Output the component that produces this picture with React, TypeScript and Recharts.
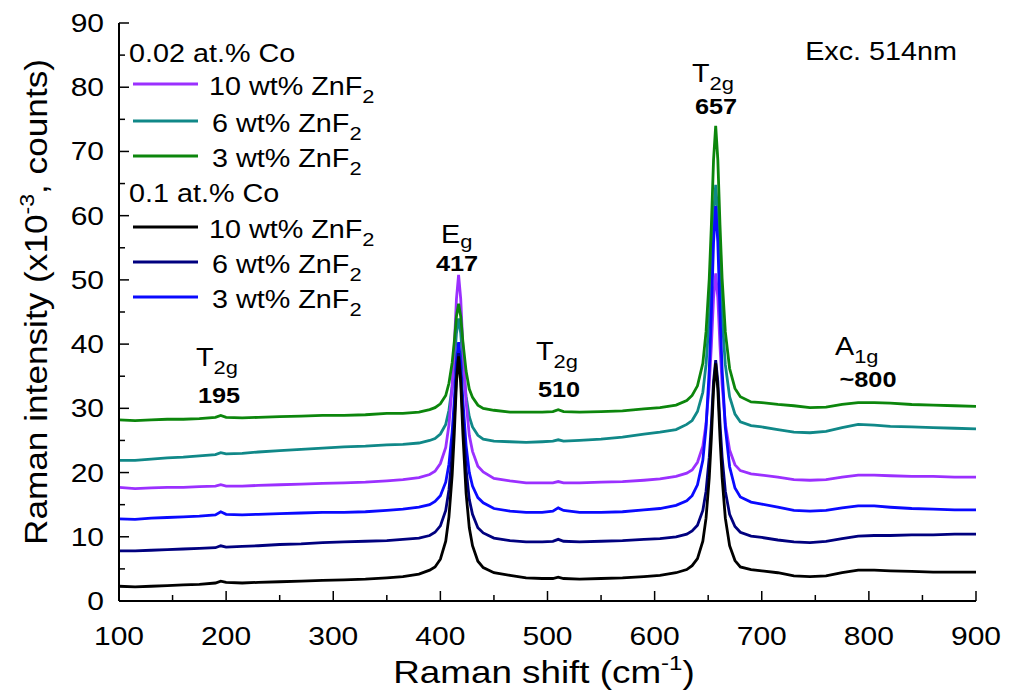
import { LineChart, Line, XAxis, YAxis } from 'recharts'

// Raman shift (cm-1)
const shift = [
  100, 115, 130, 145, 160, 175, 190, 195, 200, 215,
  230, 250, 270, 290, 310, 330, 350, 365, 380, 390,
  395, 400, 405, 408, 411, 413, 415, 417, 419, 421,
  424, 427, 430, 435, 440, 450, 465, 480, 495, 505,
  510, 515, 530, 550, 570, 590, 605, 620, 630, 635,
  640, 645, 648, 651, 653, 655, 657, 659, 661, 663,
  666, 670, 675, 680, 690, 700, 715, 730, 745, 760,
  775, 790, 805, 820, 840, 860, 880, 900,
]

// 0.02 at.% Co
const co002_10 = [
  17.7, 17.5, 17.6, 17.7, 17.7, 17.8, 17.9, 18.1, 17.9, 17.9,
  18.0, 18.1, 18.2, 18.3, 18.4, 18.5, 18.7, 18.9, 19.2, 19.7,
  20.2, 21.4, 23.9, 27.4, 33.5, 39.6, 47.0, 50.8, 47.0, 39.6,
  31.0, 25.8, 23.3, 21.0, 20.1, 19.1, 18.7, 18.4, 18.4, 18.4,
  18.6, 18.4, 18.4, 18.5, 18.6, 18.8, 19.0, 19.4, 19.9, 20.4,
  21.6, 24.1, 27.6, 33.7, 39.8, 47.2, 51.0, 47.2, 39.8, 33.7,
  27.6, 23.5, 21.2, 20.3, 19.8, 19.6, 19.3, 18.9, 18.8, 18.9,
  19.3, 19.6, 19.6, 19.5, 19.4, 19.4, 19.3, 19.3,
]
const co002_6 = [
  21.9, 21.9, 22.1, 22.3, 22.4, 22.6, 22.8, 23.1, 22.9, 23.0,
  23.2, 23.4, 23.6, 23.8, 24.0, 24.1, 24.3, 24.4, 24.6, 25.0,
  25.3, 26.0, 27.5, 29.7, 33.4, 37.1, 41.7, 44.0, 41.7, 37.1,
  31.9, 28.7, 27.1, 25.8, 25.2, 24.9, 24.8, 24.7, 24.8, 24.9,
  25.1, 24.9, 25.0, 25.2, 25.5, 26.0, 26.3, 26.7, 27.5, 28.1,
  29.5, 32.5, 36.8, 44.1, 51.4, 60.2, 64.8, 60.2, 51.4, 44.1,
  36.8, 31.8, 29.1, 27.9, 27.3, 27.1, 26.7, 26.3, 26.2, 26.4,
  27.0, 27.5, 27.4, 27.2, 27.1, 27.0, 26.9, 26.8,
]
const co002_3 = [
  28.2, 28.1, 28.2, 28.3, 28.3, 28.4, 28.6, 28.9, 28.6, 28.5,
  28.6, 28.7, 28.8, 28.9, 28.9, 29.0, 29.2, 29.2, 29.4, 29.8,
  30.1, 30.7, 32.0, 33.9, 37.1, 40.4, 44.3, 46.3, 44.3, 40.4,
  35.8, 33.0, 31.7, 30.5, 30.0, 29.7, 29.4, 29.4, 29.4, 29.5,
  29.8, 29.5, 29.4, 29.5, 29.6, 29.9, 30.1, 30.5, 31.2, 32.0,
  33.5, 37.0, 41.9, 50.2, 58.6, 68.7, 74.0, 68.7, 58.6, 50.2,
  41.9, 36.2, 33.1, 31.8, 31.0, 30.9, 30.6, 30.4, 30.1, 30.2,
  30.6, 30.9, 30.9, 30.8, 30.6, 30.5, 30.4, 30.3,
]

// 0.1 at.% Co
const co01_10 = [
  2.3, 2.2, 2.3, 2.4, 2.5, 2.6, 2.8, 3.1, 2.9, 2.8,
  2.9, 3.0, 3.1, 3.2, 3.3, 3.4, 3.6, 3.8, 4.2, 4.8,
  5.3, 6.5, 9.3, 13.1, 19.6, 26.1, 34.0, 38.1, 34.0, 26.1,
  16.8, 11.4, 8.6, 6.2, 5.2, 4.4, 4.0, 3.6, 3.5, 3.5,
  3.7, 3.5, 3.4, 3.5, 3.6, 3.8, 4.0, 4.4, 4.9, 5.5,
  6.6, 9.3, 12.9, 19.2, 25.5, 33.0, 37.0, 33.0, 25.5, 19.2,
  12.9, 8.6, 6.3, 5.3, 4.9, 4.7, 4.4, 3.9, 3.8, 3.9,
  4.4, 4.8, 4.8, 4.7, 4.6, 4.5, 4.5, 4.5,
]
const co01_6 = [
  7.8, 7.8, 7.9, 8.0, 8.1, 8.2, 8.3, 8.6, 8.4, 8.5,
  8.6, 8.8, 8.9, 9.1, 9.2, 9.3, 9.4, 9.6, 9.8, 10.2,
  10.7, 11.7, 14.1, 17.3, 22.8, 28.4, 35.1, 38.6, 35.1, 28.4,
  20.5, 15.8, 13.5, 11.4, 10.6, 9.8, 9.4, 9.2, 9.2, 9.3,
  9.6, 9.3, 9.2, 9.3, 9.4, 9.6, 9.7, 10.0, 10.4, 10.9,
  11.8, 14.1, 17.1, 22.4, 27.7, 34.2, 37.5, 34.2, 27.7, 22.4,
  17.1, 13.5, 11.6, 10.7, 10.1, 9.9, 9.5, 9.2, 9.1, 9.3,
  9.7, 10.1, 10.2, 10.2, 10.3, 10.3, 10.4, 10.4,
]
const co01_3 = [
  12.8, 12.7, 12.9, 13.0, 13.1, 13.2, 13.4, 13.9, 13.5, 13.4,
  13.5, 13.6, 13.7, 13.8, 13.8, 13.9, 14.1, 14.3, 14.6, 15.0,
  15.5, 16.4, 18.5, 21.3, 26.3, 31.2, 37.2, 40.3, 37.2, 31.2,
  24.2, 20.0, 17.9, 16.1, 15.3, 14.4, 14.0, 13.8, 13.8, 14.0,
  14.5, 14.1, 13.8, 13.8, 13.9, 14.2, 14.4, 14.9, 15.6, 16.4,
  18.1, 21.9, 27.0, 36.0, 45.0, 55.8, 61.5, 55.8, 45.0, 36.0,
  27.0, 20.9, 17.6, 16.2, 15.4, 15.1, 14.6, 14.1, 14.0, 14.1,
  14.5, 14.8, 14.8, 14.6, 14.4, 14.3, 14.2, 14.2,
]

const xTicks = [100, 150, 200, 250, 300, 350, 400, 450, 500, 550, 600, 650, 700, 750, 800, 850, 900]
const yTicks = [0, 5, 10, 15, 20, 25, 30, 35, 40, 45, 50, 55, 60, 65, 70, 75, 80, 85, 90]

const data = shift.map((x, i) => ({
  x,
  a: co002_10[i],
  b: co002_6[i],
  c: co002_3[i],
  d: co01_10[i],
  e: co01_6[i],
  f: co01_3[i],
}))

const PURPLE = '#9b30ff'
const TEAL = '#108888'
const GREEN = '#0c860c'
const NAVY = '#00007f'
const BLUE = '#0a0aff'
const BLACK = '#000000'

const FONT = "'Liberation Sans', Arial, sans-serif"
const SX = 1.15

// plot box
const LEFT = 119
const RIGHT = 976
const TOP = 23
const BOTTOM = 601

function BottomTick({ x, payload }: any) {
  const major = payload.value % 100 === 0
  return (
    <g>
      <line x1={x} x2={x} y1={BOTTOM} y2={BOTTOM - (major ? 10 : 6)} stroke="#000" strokeWidth={1.5} />
      {major && (
        <text transform={`translate(${x},645) scale(1.2,1)`} textAnchor="middle" fontSize={25} fontFamily={FONT} fill="#000">
          {payload.value}
        </text>
      )}
    </g>
  )
}

function TopTick({ x, payload }: any) {
  const major = payload.value % 100 === 0
  return <line x1={x} x2={x} y1={TOP} y2={TOP + (major ? 10 : 6)} stroke="#000" strokeWidth={1.5} />
}

function LeftTick({ y, payload }: any) {
  const major = payload.value % 10 === 0
  return (
    <g>
      <line x1={LEFT} x2={LEFT + (major ? 10 : 6)} y1={y} y2={y} stroke="#000" strokeWidth={1.5} />
      {major && (
        <text transform={`translate(104,${y + 9}) scale(1.2,1)`} textAnchor="end" fontSize={25} fontFamily={FONT} fill="#000">
          {payload.value}
        </text>
      )}
    </g>
  )
}

function RightTick({ y, payload }: any) {
  const major = payload.value % 10 === 0
  return <line x1={RIGHT} x2={RIGHT - (major ? 10 : 6)} y1={y} y2={y} stroke="#000" strokeWidth={1.5} />
}

function Txt({ x, y, size = 25, anchor = 'start', bold = false, children }: any) {
  return (
    <text
      transform={`translate(${x},${y}) scale(${SX},1)`}
      fontSize={size}
      textAnchor={anchor}
      fontWeight={bold ? 'bold' : 'normal'}
      fontFamily={FONT}
      fill="#000"
    >
      {children}
    </text>
  )
}

function Mode({ x, y, main, sub, dy = 8 }: any) {
  return (
    <Txt x={x} y={y} size={25}>
      {main}
      <tspan fontSize={19} dy={dy}>{sub}</tspan>
    </Txt>
  )
}

const legendRows = [
  { y: 84, tx: 209, color: PURPLE, label: '10 wt% ZnF' },
  { y: 121, tx: 212, color: TEAL, label: '6 wt% ZnF' },
  { y: 156, tx: 212, color: GREEN, label: '3 wt% ZnF' },
  { y: 227, tx: 209, color: BLACK, label: '10 wt% ZnF' },
  { y: 262, tx: 212, color: NAVY, label: '6 wt% ZnF' },
  { y: 297, tx: 212, color: BLUE, label: '3 wt% ZnF' },
]

export default function App() {
  return (
    <div style={{ position: 'absolute', left: 0, top: 0, width: 1011, height: 697, background: '#fff' }}>
      <LineChart width={1011} height={697} data={data} margin={{ top: TOP, right: 1011 - RIGHT, bottom: 56, left: 59 }}>
        <XAxis
          dataKey="x"
          type="number"
          domain={[100, 900]}
          ticks={xTicks}
          interval={0}
          height={40}
          axisLine={{ stroke: '#000', strokeWidth: 2 }}
          tickLine={false}
          tick={<BottomTick />}
        />
        <XAxis
          xAxisId="top"
          orientation="top"
          dataKey="x"
          type="number"
          domain={[100, 900]}
          ticks={xTicks}
          interval={0}
          height={0}
          axisLine={{ stroke: '#000', strokeWidth: 2 }}
          tickLine={false}
          tick={<TopTick />}
        />
        <YAxis
          type="number"
          domain={[0, 90]}
          ticks={yTicks}
          interval={0}
          width={60}
          axisLine={{ stroke: '#000', strokeWidth: 2 }}
          tickLine={false}
          tick={<LeftTick />}
        />
        <YAxis
          yAxisId="right"
          orientation="right"
          type="number"
          domain={[0, 90]}
          ticks={yTicks}
          interval={0}
          width={0}
          axisLine={{ stroke: '#000', strokeWidth: 2 }}
          tickLine={false}
          tick={<RightTick />}
        />
        <Line type="linear" dataKey="b" stroke={TEAL} strokeWidth={2.8} dot={false} isAnimationActive={false} />
        <Line type="linear" dataKey="a" stroke={PURPLE} strokeWidth={2.8} dot={false} isAnimationActive={false} />
        <Line type="linear" dataKey="f" stroke={BLUE} strokeWidth={2.8} dot={false} isAnimationActive={false} />
        <Line type="linear" dataKey="e" stroke={NAVY} strokeWidth={2.8} dot={false} isAnimationActive={false} />
        <Line type="linear" dataKey="d" stroke={BLACK} strokeWidth={2.8} dot={false} isAnimationActive={false} />
        <Line type="linear" dataKey="c" stroke={GREEN} strokeWidth={2.8} dot={false} isAnimationActive={false} />
      </LineChart>

      <svg width={1011} height={697} style={{ position: 'absolute', left: 0, top: 0, pointerEvents: 'none' }}>
        {/* legend */}
        <Txt x={129} y={62}>0.02 at.% Co</Txt>
        <Txt x={129} y={202}>0.1 at.% Co</Txt>
        {legendRows.map((r, i) => (
          <g key={i}>
            <line x1={133} x2={198} y1={r.y} y2={r.y} stroke={r.color} strokeWidth={3} />
            <Txt x={r.tx} y={r.y + 11}>
              {r.label}
              <tspan fontSize={19} dy={8}>2</tspan>
            </Txt>
          </g>
        ))}

        <Txt x={957} y={60} anchor="end">Exc. 514nm</Txt>

        {/* mode labels */}
        <Mode x={196} y={366} main="T" sub="2g" />
        <Txt x={219} y={403} size={22} anchor="middle" bold>195</Txt>
        <Mode x={441} y={243} main="E" sub="g" dy={5} />
        <Txt x={457} y={271} size={22} anchor="middle" bold>417</Txt>
        <Mode x={536} y={360} main="T" sub="2g" />
        <Txt x={559} y={397} size={22} anchor="middle" bold>510</Txt>
        <Mode x={692} y={82} main="T" sub="2g" />
        <Txt x={716} y={114} size={22} anchor="middle" bold>657</Txt>
        <Mode x={835} y={355} main="A" sub="1g" />
        <Txt x={868} y={387} size={22} anchor="middle" bold>~800</Txt>

        {/* axis titles */}
        <text transform="translate(47,302) rotate(-90) scale(1.1,1)" textAnchor="middle" fontSize={32} fontFamily={FONT} fill="#000">
          Raman intensity (x10
          <tspan fontSize={21} dy={-13}>-3</tspan>
          <tspan dy={13}>, counts)</tspan>
        </text>
        <text transform="translate(544,683) scale(1.15,1)" textAnchor="middle" fontSize={32} fontFamily={FONT} fill="#000">
          Raman shift (cm
          <tspan fontSize={21} dy={-13}>-1</tspan>
          <tspan dy={13}>)</tspan>
        </text>
      </svg>
    </div>
  )
}
